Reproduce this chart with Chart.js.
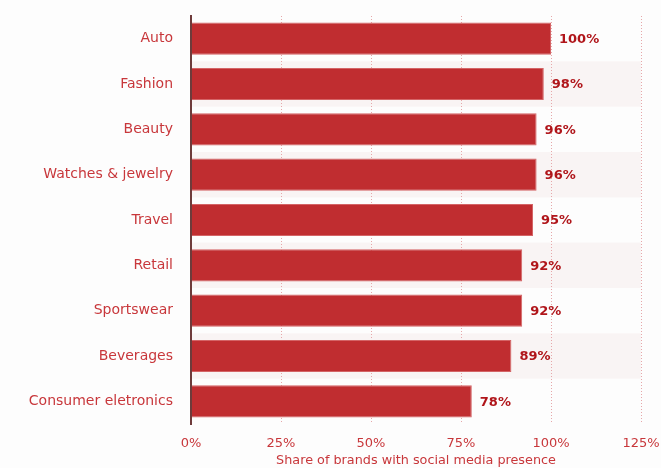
<!DOCTYPE html>
<html>
<head>
<meta charset="utf-8">
<script src="https://cdn.jsdelivr.net/npm/chart.js@4"></script>
<style>
  html, body { margin: 0; padding: 0; background: #fdfdfd; }
  #wrap { width: 661px; height: 468px; }
</style>
</head>
<body>
<div id="wrap"><canvas id="chart" width="661" height="468"></canvas></div>
<script>
// Data
const categories = ['Auto', 'Fashion', 'Beauty', 'Watches & jewelry', 'Travel', 'Retail', 'Sportswear', 'Beverages', 'Consumer eletronics'];
const shares = [100, 98, 96, 96, 95, 92, 92, 89, 78];
const xTicks = [0, 25, 50, 75, 100, 125];

const labelRed = '#c8373b';
const barRed = '#c02d30';
const valueRed = '#b0151a';
const font = '"DejaVu Sans", Verdana, sans-serif';

// Alternating row shading (under the grid) + value labels at bar ends
const rowsAndLabels = {
    id: 'rowsAndLabels',
    beforeDraw(chart) {
        const { ctx, chartArea, scales } = chart;
        const y = scales.y;
        const half = (y.getPixelForValue(1) - y.getPixelForValue(0)) / 2;
        ctx.save();
        ctx.fillStyle = '#f9f4f4';
        categories.forEach((c, i) => {
            if (i % 2 === 1) {
                const cy = y.getPixelForValue(i);
                ctx.fillRect(chartArea.left, cy - half, chartArea.right - chartArea.left, half * 2);
            }
        });
        ctx.restore();
    },
    afterDatasetsDraw(chart) {
        const { ctx, scales } = chart;
        ctx.save();
        ctx.font = 'bold 13px ' + font;
        ctx.fillStyle = valueRed;
        ctx.textBaseline = 'middle';
        ctx.textAlign = 'left';
        shares.forEach((v, i) => {
            ctx.fillText(v + '%', scales.x.getPixelForValue(v) + 8, scales.y.getPixelForValue(i) + 1);
        });
        ctx.restore();
    }
};

const ctx = document.getElementById('chart').getContext('2d');
new Chart(ctx, {
    type: 'bar',
    data: {
        labels: categories,
        datasets: [{
            data: shares,
            backgroundColor: barRed,
            borderColor: '#d46466',
            borderWidth: 1,
            borderSkipped: 'left',
            categoryPercentage: 1,
            barPercentage: 0.71
        }]
    },
    options: {
        indexAxis: 'y',
        responsive: false,
        animation: false,
        layout: { padding: { top: 16, right: 20, left: 0, bottom: 0 } },
        plugins: { legend: { display: false }, tooltip: { enabled: false } },
        scales: {
            x: {
                min: 0,
                max: 125,
                afterBuildTicks: (scale) => { scale.ticks = xTicks.map(v => ({ value: v })); },
                afterFit: (scale) => {
                    scale.height = 44;
                    scale.paddingLeft = 0;
                    scale.paddingRight = 0;
                },
                ticks: {
                    color: labelRed,
                    padding: 12,
                    font: { family: font, size: 13 },
                    callback: (v) => v + '%'
                },
                grid: {
                    color: '#e6a7a9',
                    drawTicks: false,
                    lineWidth: (c) => c.tick && c.tick.value === 0 ? 0 : 1
                },
                border: { display: false, dash: [1, 2] },
                title: {
                    display: true,
                    text: 'Share of brands with social media presence',
                    color: labelRed,
                    padding: { top: 0, bottom: 0 },
                    font: { family: font, size: 12.8 }
                }
            },
            y: {
                afterFit: (scale) => {
                    scale.width = 191;
                    scale.paddingTop = 0;
                    scale.paddingBottom = 0;
                },
                ticks: {
                    color: labelRed,
                    padding: 10,
                    font: { family: font, size: 14 }
                },
                grid: { display: false },
                border: { display: true, color: '#6e3b3b', width: 2, z: 1 }
            }
        }
    },
    plugins: [rowsAndLabels]
});
</script>
</body>
</html>
